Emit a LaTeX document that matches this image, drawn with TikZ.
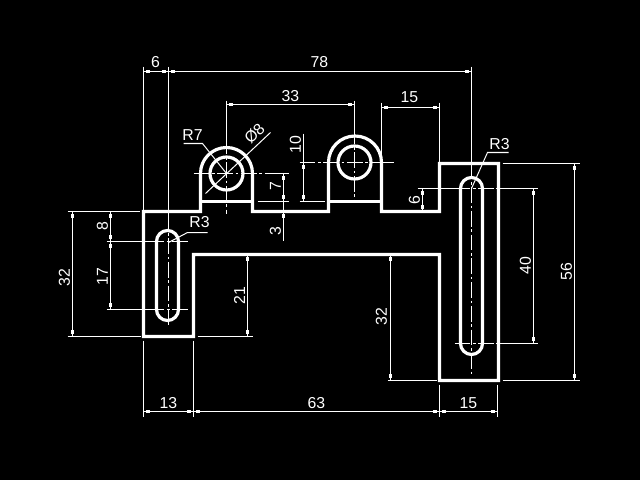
\documentclass[tikz,border=0pt]{standalone}
\usepackage{fontspec}
\setmainfont{Liberation Sans}
\usetikzlibrary{calc,decorations.markings}
\tikzset{
  part/.style={white,line width=1.8pt,line join=miter},
  thinline/.style={white,line width=.57pt},
  centerline/.style={white,line width=.57pt,dash pattern=on 9pt off 1.5pt on 1.5pt off 1.5pt},
  dim/.style={thinline,postaction={decorate},decoration={markings,
      mark=at position 2.6pt with {\fill[white] (-1pt,-1pt) rectangle (1pt,1pt);},
      mark=at position -2.6pt with {\fill[white] (-1pt,-1pt) rectangle (1pt,1pt);}}},
  dimone/.style={thinline,postaction={decorate},decoration={markings,
      mark=at position 2.6pt with {\fill[white] (-1pt,-1pt) rectangle (1pt,1pt);}}},
  num/.style={white,font=\fontsize{9}{9}\selectfont,inner sep=0pt},
  numv/.style={num,rotate=90},
}
\begin{document}
\begin{tikzpicture}[x=.02cm,y=-.02cm]
    \fill[black] (0,0) rectangle (640,480);
    \useasboundingbox (0,0) rectangle (640,480);
    \begin{scope}[shift={(.5,.5)}]
    % outline of the part
    \draw[part] (143,211)--(200,211)--(200,173) arc[start angle=180,end angle=360,radius=26]
      --(252,211)--(328,211)--(328,162) arc[start angle=180,end angle=360,radius=26.5]
      --(381,211)--(439,211)--(439,163)--(498,163)--(498,380)--(439,380)--(439,254)
      --(193,254)--(193,336)--(143,336)--cycle;
    \draw[part] (200,201)--(252,201);
    \draw[part] (328,201)--(381,201);
    \draw[part] (226,173) circle[radius=16.5];
    \draw[part] (354,162) circle[radius=16.5];
    \draw[part] (156,241) arc[start angle=180,end angle=360,radius=11]
      --(178,309) arc[start angle=0,end angle=180,radius=11]--cycle;
    \draw[part] (460,188) arc[start angle=180,end angle=360,radius=11]
      --(482,343) arc[start angle=0,end angle=180,radius=11]--cycle;
    % center lines
    \draw[centerline] (193,173)--(267,173);
    \draw[centerline] (299,162)--(393,162);
    \draw[centerline] (226,138)--(226,213);
    \draw[centerline] (354,128)--(354,200);
    \draw[centerline] (168,214)--(168,324);
    \draw[centerline] (471,163)--(471,373);
    \draw[centerline] (148,241)--(188,241);
    \draw[centerline] (148,309)--(188,309);
    \draw[centerline] (454,188)--(495,188);
    \draw[centerline] (454,343)--(495,343);
    % extension lines
    \draw[thinline] (143,66)--(143,209);
    \draw[thinline] (168,66)--(168,214);
    \draw[thinline] (226,100)--(226,138);
    \draw[thinline] (354,100)--(354,128);
    \draw[thinline] (381,102)--(381,160);
    \draw[thinline] (439,102)--(439,161);
    \draw[thinline] (471,66)--(471,176);
    \draw[thinline] (143,340)--(143,416);
    \draw[thinline] (193,340)--(193,416);
    \draw[thinline] (439,384)--(439,416);
    \draw[thinline] (497,384)--(497,416);
    \draw[thinline] (67,211)--(139,211);
    \draw[thinline] (67,336)--(140,336);
    \draw[thinline] (106,241)--(148,241);
    \draw[thinline] (106,309)--(148,309);
    \draw[thinline] (197,336)--(252,336);
    \draw[thinline] (267,173)--(288,173);
    \draw[thinline] (257,201)--(288,201);
    \draw[thinline] (385,162)--(393,162);
    \draw[thinline] (299,201)--(324,201);
    \draw[thinline] (417,188)--(454,188);
    \draw[thinline] (495,188)--(537,188);
    \draw[thinline] (495,343)--(537,343);
    \draw[thinline] (502,163)--(579,163);
    \draw[thinline] (502,380)--(579,380);
    \draw[thinline] (387,380)--(436,380);
    % dimensions
    \draw[dim] (143,71)--(168,71);
    \draw[dim] (168,71)--(471,71);
    \draw[dim] (226,104)--(354,104);
    \draw[dim] (381,107)--(439,107);
    \draw[dim] (143,411)--(193,411);
    \draw[dim] (193,411)--(439,411);
    \draw[dim] (439,411)--(497,411);
    \draw[dim] (72,211)--(72,336);
    \draw[dim] (110,211)--(110,241);
    \draw[dim] (110,241)--(110,309);
    \draw[dim] (247,254)--(247,336);
    \draw[dim] (283,173)--(283,201);
    \draw[thinline] (283,201)--(283,211);
    \draw[dimone] (283,211)--(283,240);
    \draw[dim] (303,162)--(303,201);
    \draw[thinline] (303,133)--(303,162);
    \draw[dim] (422,188)--(422,211);
    \draw[dim] (533,188)--(533,343);
    \draw[dim] (574,163)--(574,380);
    \draw[dim] (390,254)--(390,380);
    % leaders
    \draw[thinline] (183,143)--(202,143)--(226,173);
    \draw[thinline] (205,193)--(270,132);
    \draw[thinline] (207,232)--(187,232)--(168,242);
    \draw[thinline] (508,152)--(487,152)--(471,188);
    % texts
    \node[num] (t6) at (155,62) {6};
    \node[num] (t78) at (319,62) {78};
    \node[num] (t33) at (290,96) {33};
    \node[num] (t15a) at (409,97) {15};
    \node[num] (t13) at (168,403) {13};
    \node[num] (t63) at (316,403) {63};
    \node[num] (t15b) at (468,403) {15};
    \node[num] (tr7) at (192,135) {R7};
    \node[num] (tr3a) at (199,222) {R3};
    \node[num] (tr3b) at (499,144) {R3};
    \node[num,rotate=45] (tphi) at (254,133) {Ø8};
    \node[numv] (t32a) at (64,277) {32};
    \node[numv] (t8) at (102,226) {8};
    \node[numv] (t17) at (102,276) {17};
    \node[numv] (t21) at (239,295) {21};
    \node[numv] (t7) at (275,186) {7};
    \node[numv] (t3) at (275,231) {3};
    \node[numv] (t10) at (295,144) {10};
    \node[numv] (t6b) at (414,200) {6};
    \node[numv] (t40) at (525,265) {40};
    \node[numv] (t56) at (566,271) {56};
    \node[numv] (t32b) at (381,316) {32};
    \end{scope}
\end{tikzpicture}
\end{document}
